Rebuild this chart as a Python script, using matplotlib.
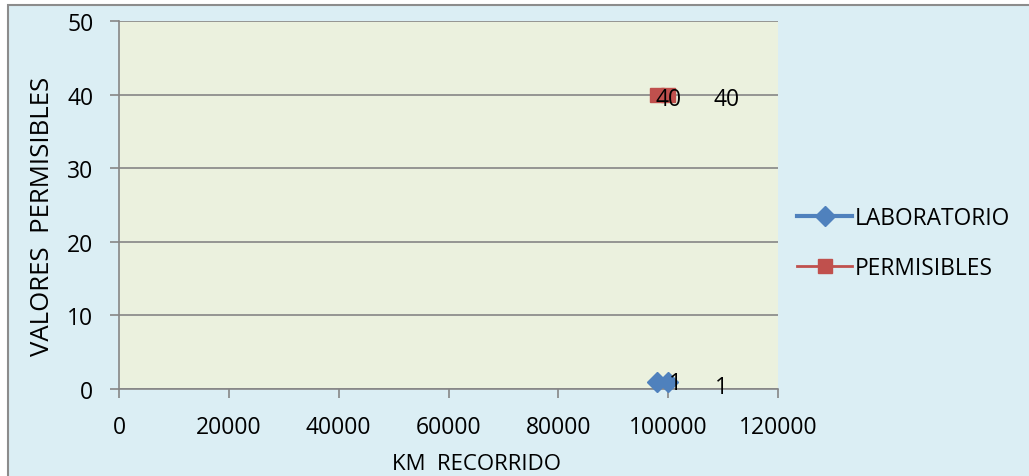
import matplotlib
matplotlib.use("Agg")
import matplotlib.pyplot as plt
from matplotlib.patches import Rectangle
from matplotlib.lines import Line2D

# Datos del gráfico
km_laboratorio = [98000, 100000]
val_laboratorio = [1, 1]
km_permisibles = [98000, 100000]
val_permisibles = [40, 40]
x_ticks = [0, 20000, 40000, 60000, 80000, 100000, 120000]
y_ticks = [0, 10, 20, 30, 40, 50]

AZUL = "#4F81BD"
ROJO = "#C0504D"
FONDO = "#DBEEF4"
AREA = "#EBF1DE"
GRIS = "#868686"

plt.rcParams["font.family"] = ["Open Sans", "DejaVu Sans"]

W, H = 1029, 477
fig = plt.figure(figsize=(W / 100, H / 100), dpi=100, facecolor="white")

# marco del área del gráfico
fig.patches.append(Rectangle((8 / W, -0.1), 1.2, 1 - 6 / H + 0.1,
                             transform=fig.transFigure, facecolor=FONDO,
                             edgecolor="#8C8C8C", linewidth=1.5, zorder=-5))

ax = fig.add_axes([119 / W, 1 - 390 / H, (778 - 119) / W, (390 - 22) / H])
ax.set_facecolor(AREA)
ax.set_xlim(0, 120000)
ax.set_ylim(0, 50)
ax.set_xticks(x_ticks)
ax.set_yticks(y_ticks)
ax.set_xticklabels([str(v) for v in x_ticks])
ax.set_yticklabels([str(v) for v in y_ticks])
ax.tick_params(axis="both", direction="out", length=6.5, width=1.2,
               color=GRIS, labelsize=16.5)
ax.tick_params(axis="x", pad=12)
ax.tick_params(axis="y", pad=12)
ax.grid(axis="y", color=GRIS, linewidth=1.2)
ax.set_axisbelow(True)
for side in ("top", "right"):
    ax.spines[side].set_visible(False)
for side in ("left", "bottom"):
    ax.spines[side].set_color(GRIS)
    ax.spines[side].set_linewidth(1.2)

ax.plot(km_laboratorio, val_laboratorio, color=AZUL, linewidth=3,
        marker="D", markersize=10, markeredgecolor=AZUL, clip_on=False,
        zorder=3)
ax.plot(km_permisibles, val_permisibles, color=ROJO, linewidth=3,
        marker="s", markersize=10, markeredgecolor=ROJO, clip_on=False,
        zorder=3)

# etiquetas de datos
lab_offsets = [(13, -1), (38, -4)]
for x, y, off in zip(km_laboratorio, val_laboratorio, lab_offsets):
    ax.annotate(str(y), (x, y), xytext=off, textcoords="offset points",
                ha="center", va="center", fontsize=16.5, annotation_clip=False,
                zorder=4)
perm_offsets = [(8, -3), (42, -3)]
for x, y, off in zip(km_permisibles, val_permisibles, perm_offsets):
    ax.annotate(str(y), (x, y), xytext=off, textcoords="offset points",
                ha="center", va="center", fontsize=16.5, annotation_clip=False,
                zorder=4)

fig.text(43 / W, 1 - 216 / H, "VALORES  PERMISIBLES", rotation=90,
         ha="center", va="center", fontsize=18.5)
fig.text(476 / W, 1 - 465 / H, "KM  RECORRIDO", ha="center", va="center",
         fontsize=16)

handles = [
    Line2D([], [], color=AZUL, linewidth=3, marker="D", markersize=10),
    Line2D([], [], color=ROJO, linewidth=2, marker="s", markersize=10),
]
fig.legend(handles, ["LABORATORIO", "PERMISIBLES"], loc="center left",
           bbox_to_anchor=(786 / W, 1 - 244 / H), frameon=False,
           fontsize=16.4, handlelength=2.4, handletextpad=0.1,
           labelspacing=1.15, borderpad=0)

fig.savefig("out.png", dpi=100, facecolor="white")
